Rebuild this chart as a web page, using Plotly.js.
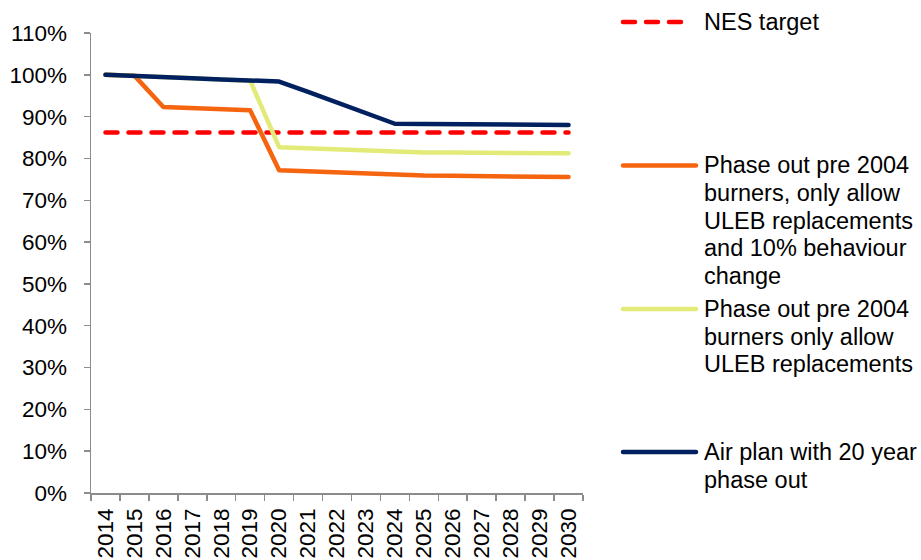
<!DOCTYPE html>
<html>
<head>
<meta charset="utf-8">
<script src="https://cdn.plot.ly/plotly-3.0.1.min.js"></script>
<style>
  html, body { margin: 0; padding: 0; background: #fff; }
  #chart { width: 921px; height: 560px; }
</style>
</head>
<body>
<div id="chart"></div>
<script>
// Years on the category axis
const years = ["2014","2015","2016","2017","2018","2019","2020","2021","2022",
               "2023","2024","2025","2026","2027","2028","2029","2030"];

// Emissions relative to 2014 (%)
const nesTarget = [86.2,86.2,86.2,86.2,86.2,86.2,86.2,86.2,86.2,
                   86.2,86.2,86.2,86.2,86.2,86.2,86.2,86.2];
const phaseOutBehaviour = [100,99.8,92.3,92.1,91.8,91.5,77.2,76.9,76.6,
                           76.3,76.0,75.9,75.85,75.8,75.7,75.6,75.55];
const phaseOutUleb = [100,99.8,99.5,99.2,98.9,98.6,82.7,82.4,82.1,
                      81.8,81.5,81.45,81.4,81.35,81.3,81.3,81.25];
const airPlan = [100,99.8,99.5,99.2,98.9,98.6,98.4,95.9,93.4,
                 90.8,88.3,88.25,88.2,88.15,88.1,88.05,88.0];

// Y axis tick values (%)
const yTicks = [0,10,20,30,40,50,60,70,80,90,100,110];

// Legend wording, one entry per line of text
const legendNames = [
  ["NES target"],
  ["Phase out pre 2004", "burners, only allow", "ULEB replacements", "and 10% behaviour", "change"],
  ["Phase out pre 2004", "burners only allow", "ULEB replacements"],
  ["Air plan with 20 year", "phase out"]
];

const colors = ["#FF0000", "#F5640F", "#E2EB78", "#002060"];
const FONT = "Liberation Sans, Arial, sans-serif";

// Plot box in pixels
const M = { l: 91, r: 338, t: 33, b: 67 };
const W = 921, H = 560;
const PW = W - M.l - M.r, PH = H - M.t - M.b;
const px2x = p => (p - M.l) / PW;
const px2y = p => (H - M.b - p) / PH;

const series = [nesTarget, phaseOutBehaviour, phaseOutUleb, airPlan];
// NES target drawn underneath the scenarios, air plan on top
const data = series.map((vals, i) => ({
  type: "scatter",
  mode: "lines",
  x: years,
  y: vals,
  name: legendNames[i].join(" "),
  line: { color: colors[i], width: 4.5, dash: i === 0 ? "12px,11px" : "solid" },
  hoverinfo: "skip",
  showlegend: false
}));

// Legend drawn at the right-hand side
const legendRows = [22, 165.5, 309, 452];
const legendLineEnd = [686, 696, 696, 696];
const LINE_STEP = 27.5;
const shapes = [];
const annotations = [];
legendNames.forEach((lines, i) => {
  shapes.push({
    type: "line", xref: "paper", yref: "paper",
    x0: px2x(623), x1: px2x(legendLineEnd[i]),
    y0: px2y(legendRows[i]), y1: px2y(legendRows[i]),
    line: { color: colors[i], width: 4.5, dash: i === 0 ? "12px,11px" : "solid" }
  });
  lines.forEach((txt, k) => {
    annotations.push({
      xref: "paper", yref: "paper",
      x: px2x(702), y: px2y(legendRows[i] + k * LINE_STEP),
      xanchor: "left", yanchor: "middle",
      text: txt, showarrow: false,
      font: { family: FONT, size: 23.5, color: "#000" }
    });
  });
});

const layout = {
  width: W, height: H,
  margin: M,
  paper_bgcolor: "#fff",
  plot_bgcolor: "#fff",
  showlegend: false,
  font: { family: FONT, color: "#000" },
  xaxis: {
    type: "category",
    range: [-0.5, 16.5],
    tickson: "boundaries",
    ticks: "outside",
    ticklen: 6,
    tickwidth: 1.5,
    tickcolor: "#8c8c8c",
    showline: true,
    linecolor: "#8c8c8c",
    linewidth: 1.5,
    showgrid: false,
    zeroline: false,
    tickangle: -90,
    ticklabelstandoff: 5,
    tickfont: { family: FONT, size: 22.5, color: "#000" }
  },
  yaxis: {
    range: [0, 110],
    tickmode: "array",
    tickvals: yTicks,
    ticktext: yTicks.map(v => v + "%"),
    ticks: "outside",
    ticklen: 6,
    tickwidth: 1.5,
    tickcolor: "#8c8c8c",
    showline: true,
    linecolor: "#8c8c8c",
    linewidth: 1.5,
    showgrid: false,
    zeroline: false,
    ticklabelstandoff: 12,
    tickfont: { family: FONT, size: 22.5, color: "#000" }
  },
  shapes: shapes,
  annotations: annotations
};

Plotly.newPlot("chart", data, layout, { staticPlot: true, displayModeBar: false }).then(gd => {
  gd.querySelectorAll(".scatterlayer path.js-line, .shapelayer path").forEach(p => {
    p.style.strokeLinecap = "round";
    p.style.strokeLinejoin = "round";
  });
});
</script>
</body>
</html>
